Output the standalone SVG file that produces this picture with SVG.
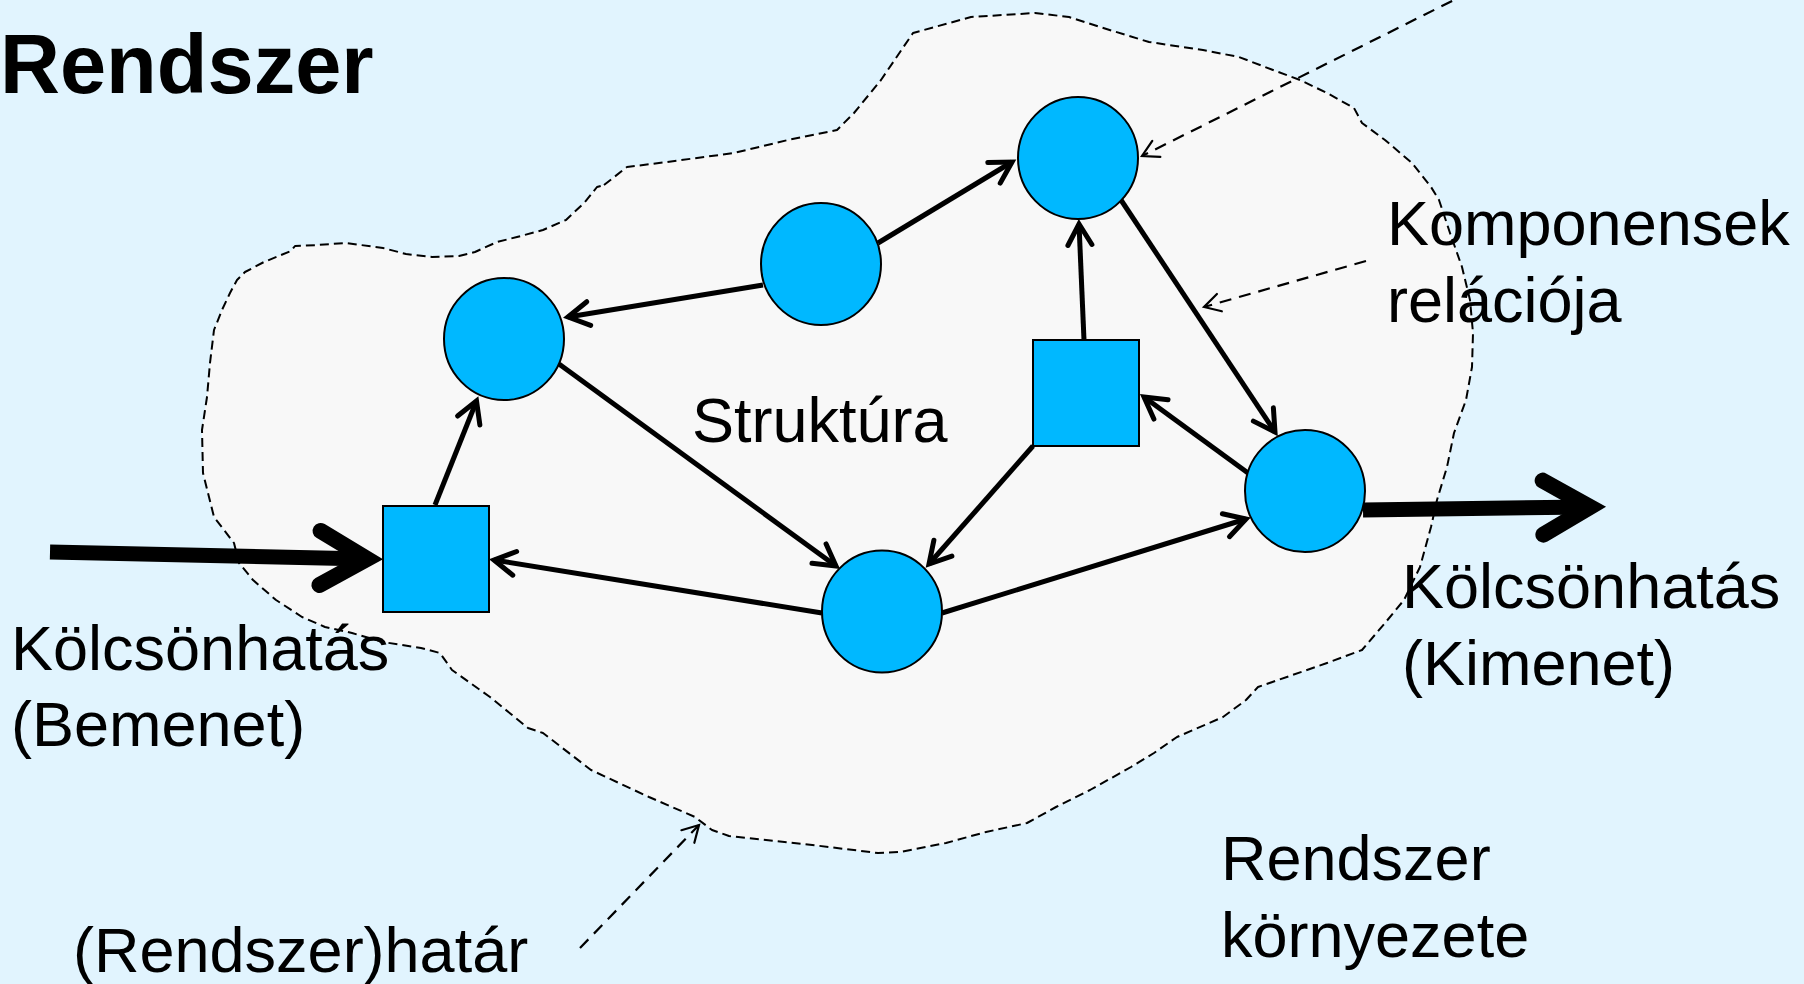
<svg xmlns="http://www.w3.org/2000/svg" width="1804" height="984" viewBox="0 0 1804 984">
  <defs>
    <style>
      .bg { fill: #E1F4FE; }
      .area { fill: #F8F8F8; stroke: none; }
      .edge { fill: none; stroke: #000; stroke-width: 2; stroke-dasharray: 9 5; stroke-linejoin: round; }
      .node { fill: #00B8FF; stroke: #000; stroke-width: 2; }
      .link { fill: none; stroke: #000; stroke-width: 5; marker-end: url(#head); }
      .flow { fill: none; stroke: #000; stroke-width: 15; marker-end: url(#bighead); }
      .hint { fill: none; stroke: #000; stroke-width: 2.2; stroke-dasharray: 12 8; marker-end: url(#thinhead); }
      .lbl { font-family: "Liberation Sans", Arial, sans-serif; font-size: 63px; fill: #000; }
      .title { font-family: "Liberation Sans", Arial, sans-serif; font-size: 83px; font-weight: bold; fill: #000; }
    </style>
    <marker id="head" markerUnits="userSpaceOnUse" viewBox="-28 -18 34 36" refX="0" refY="0" markerWidth="34" markerHeight="36" orient="auto" overflow="visible">
      <path d="M -21 -12 L 0 0 L -21 12" fill="none" stroke="#000" stroke-width="5" stroke-linecap="round" stroke-linejoin="miter"/>
    </marker>
    <marker id="bighead" markerUnits="userSpaceOnUse" viewBox="-60 -40 90 80" refX="0" refY="0" markerWidth="90" markerHeight="80" orient="auto" overflow="visible">
      <path d="M -47 -27 L 0 0 L -47 27" fill="none" stroke="#000" stroke-width="16" stroke-linecap="round" stroke-linejoin="miter"/>
    </marker>
    <marker id="thinhead" markerUnits="userSpaceOnUse" viewBox="-20 -12 26 24" refX="0" refY="0" markerWidth="26" markerHeight="24" orient="auto" overflow="visible">
      <path d="M -16 -9 L 0 0 L -16 9" fill="none" stroke="#000" stroke-width="2.2" stroke-linecap="round"/>
    </marker>
    <path id="boundary" d="M 604 185 L 627 167 L 667 162 L 734 153 L 788 140 L 837 130 L 854 113 L 881 80 L 913 33 L 971 17 L 1035 13 L 1069 17 L 1100 27 L 1149 42 L 1203 50 L 1239 57 L 1273 70 L 1300 80 L 1327 93 L 1354 108 L 1362 123 L 1385 140 L 1412 163 L 1431 187 L 1439 200 L 1450 233 L 1462 267 L 1470 300 L 1473 333 L 1472 367 L 1466 400 L 1454 433 L 1447 467 L 1437 500 L 1431 527 L 1420 567 L 1404 600 L 1385 623 L 1362 650 L 1327 663 L 1258 687 L 1246 700 L 1223 717 L 1177 737 L 1154 753 L 1131 767 L 1090 790 L 1056 807 L 1027 823 L 986 832 L 946 843 L 900 852 L 878 853 L 804 844 L 729 836 L 712 830 L 695 817 L 649 797 L 591 770 L 543 733 L 528 728 L 490 697 L 452 670 L 440 653 L 421 648 L 383 642 L 352 633 L 325 627 L 302 617 L 276 600 L 253 580 L 239 563 L 234 543 L 224 530 L 214 517 L 209 497 L 203 473 L 202 430 L 207 397 L 210 363 L 214 330 L 222 310 L 230 293 L 237 280 L 245 272 L 264 262 L 291 251 L 295 246 L 318 245 L 346 243 L 383 248 L 406 254 L 432 257 L 459 256 L 475 252 L 497 242 L 517 237 L 543 230 L 566 220 L 585 202 L 597 187 Z"/>
  </defs>

  <!-- environment -->
  <rect class="bg" x="0" y="0" width="1804" height="984"/>

  <!-- system area -->
  <use href="#boundary" class="area"/>

  <!-- labels -->
  <g id="labels">
    <text class="title" x="0" y="93">Rendszer</text>
    <text class="lbl" x="692" y="442">Struktúra</text>
    <text class="lbl" x="1387" y="245">Komponensek</text>
    <text class="lbl" x="1387" y="322">relációja</text>
    <text class="lbl" x="11" y="670">Kölcsönhatás</text>
    <text class="lbl" x="11" y="746">(Bemenet)</text>
    <text class="lbl" x="1402" y="608">Kölcsönhatás</text>
    <text class="lbl" x="1402" y="685">(Kimenet)</text>
    <text class="lbl" x="73" y="972">(Rendszer)határ</text>
    <text class="lbl" x="1221" y="880">Rendszer</text>
    <text class="lbl" x="1221" y="957">környezete</text>
  </g>

  <!-- system boundary line -->
  <use href="#boundary" class="edge"/>

  <!-- annotation pointers -->
  <g id="pointers">
    <line class="hint" x1="1470" y1="-8" x2="1142" y2="156"/>
    <line class="hint" x1="1366" y1="261" x2="1204" y2="307"/>
    <line class="hint" x1="580" y1="948" x2="699" y2="825"/>
  </g>

  <!-- connectors -->
  <g id="connectors">
    <line class="flow" x1="50" y1="552" x2="367" y2="559"/>
    <line class="flow" x1="1363" y1="510" x2="1590" y2="507"/>
    <line class="link" x1="763" y1="285" x2="568" y2="317"/>
    <line class="link" x1="878" y1="243" x2="1012" y2="162"/>
    <line class="link" x1="559" y1="364" x2="836" y2="566"/>
    <line class="link" x1="435" y1="505" x2="476.5" y2="401"/>
    <line class="link" x1="822" y1="613" x2="494" y2="560"/>
    <line class="link" x1="1084" y1="340" x2="1079" y2="224"/>
    <line class="link" x1="1121" y1="200" x2="1275" y2="432"/>
    <line class="link" x1="1248" y1="473" x2="1144" y2="397"/>
    <line class="link" x1="1033" y1="446" x2="929" y2="564"/>
    <line class="link" x1="942" y1="613" x2="1246" y2="519"/>
  </g>

  <!-- components -->
  <g id="node-a"><ellipse class="node" cx="504" cy="339" rx="60" ry="61"/></g>
  <g id="node-b"><ellipse class="node" cx="821" cy="264" rx="60" ry="61"/></g>
  <g id="node-c"><ellipse class="node" cx="1078" cy="158" rx="60" ry="61"/></g>
  <g id="node-d"><rect class="node" x="383" y="506" width="106" height="106"/></g>
  <g id="node-e"><rect class="node" x="1033" y="340" width="106" height="106"/></g>
  <g id="node-f"><ellipse class="node" cx="882" cy="611.5" rx="60" ry="61"/></g>
  <g id="node-g"><ellipse class="node" cx="1305" cy="491" rx="60" ry="61"/></g>
</svg>
